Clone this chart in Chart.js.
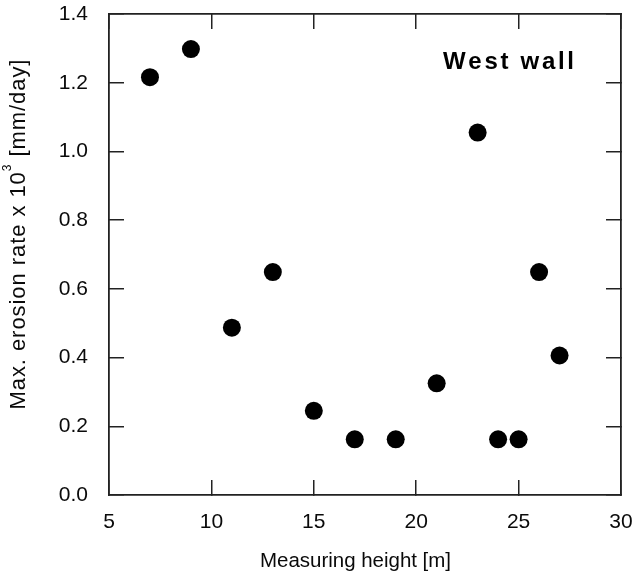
<!DOCTYPE html>
<html>
<head>
<meta charset="utf-8">
<script src="https://cdn.jsdelivr.net/npm/chart.js@4/dist/chart.umd.min.js"></script>
<style>
  html, body { margin: 0; padding: 0; background: #fff; }
  #wrap { width: 636px; height: 574px; }
</style>
</head>
<body>
<div id="wrap"><canvas id="c" width="636" height="574"></canvas></div>
<script>
// ---- data ----
const heights = [7, 9, 11, 13, 15, 17, 19, 21, 23, 24, 25, 26, 27];
const rates = [1.216, 1.298, 0.487, 0.649, 0.245, 0.162, 0.162, 0.325, 1.055, 0.162, 0.162, 0.649, 0.406];
const xTicks = [5, 10, 15, 20, 25, 30];
const yTicks = [0.0, 0.2, 0.4, 0.6, 0.8, 1.0, 1.2, 1.4];
const xTitle = 'Measuring height [m]';
const yTitleMain = 'Max. erosion rate x 10';
const yTitleSup = '3';
const yTitleEnd = ' [mm/day]';
const panelLabel = 'West wall';

const FONT = '"Liberation Sans", Arial, Helvetica, sans-serif';
const INK = '#0a0a0a';
const LINE = '#222';

function drawSpaced(ctx, text, x, y, spacing) {
  let cx = x;
  for (const ch of text) {
    ctx.fillText(ch, cx, y);
    cx += ctx.measureText(ch).width + spacing;
  }
  return cx;
}
function naturalWidth(ctx, text) {
  let w = 0;
  for (const ch of text) w += ctx.measureText(ch).width;
  return w;
}

const titlesPlugin = {
  id: 'titles',
  afterDraw(chart) {
    const ctx = chart.ctx;
    const a = chart.chartArea;
    ctx.save();
    ctx.fillStyle = INK;
    ctx.textBaseline = 'alphabetic';
    ctx.textAlign = 'left';

    // x axis title
    ctx.font = '20.5px ' + FONT;
    {
      const target = 191;
      const nat = naturalWidth(ctx, xTitle);
      const sp = (target - nat) / (xTitle.length - 1);
      const cx = a.left + (a.right - a.left) * 0.4815;
      drawSpaced(ctx, xTitle, cx - target / 2, 567, sp);
    }

    // y axis title (rotated) with superscript
    {
      const target = 350;
      ctx.font = '22px ' + FONT;
      const n1 = naturalWidth(ctx, yTitleMain);
      const n3 = naturalWidth(ctx, yTitleEnd);
      ctx.font = '12px ' + FONT;
      const n2 = naturalWidth(ctx, yTitleSup);
      const count = yTitleMain.length + yTitleSup.length + yTitleEnd.length;
      const sp = (target - n1 - n2 - n3) / (count - 1);
      const centerY = a.top + (a.bottom - a.top) * 0.4585;
      ctx.translate(25, centerY + target / 2);
      ctx.rotate(-Math.PI / 2);
      ctx.font = '22px ' + FONT;
      let x = drawSpaced(ctx, yTitleMain, 0, 0, sp);
      ctx.font = '12px ' + FONT;
      x = drawSpaced(ctx, yTitleSup, x, -14, sp);
      ctx.font = '22px ' + FONT;
      drawSpaced(ctx, yTitleEnd, x, 0, sp);
    }
    ctx.restore();

    // panel label
    ctx.save();
    ctx.fillStyle = '#000';
    ctx.font = 'bold 24px ' + FONT;
    ctx.textBaseline = 'alphabetic';
    ctx.textAlign = 'left';
    {
      const target = 131;
      const nat = naturalWidth(ctx, panelLabel);
      const sp = (target - nat) / (panelLabel.length - 1);
      drawSpaced(ctx, panelLabel, 443, 68.5, sp);
    }
    ctx.restore();
  }
};

const gridOpts = {
  drawOnChartArea: false,
  drawTicks: true,
  tickLength: -15,
  color: LINE,
  lineWidth: 1.5
};
const borderOpts = { display: true, color: LINE, width: 1.8 };

function noPad(s) {
  s.paddingTop = 0; s.paddingBottom = 0; s.paddingLeft = 0; s.paddingRight = 0;
}

new Chart(document.getElementById('c'), {
  type: 'scatter',
  data: {
    datasets: [{
      data: heights.map((h, i) => ({ x: h, y: rates[i] })),
      backgroundColor: '#000',
      borderColor: '#000',
      borderWidth: 0,
      pointRadius: 9,
      pointHoverRadius: 9
    }]
  },
  options: {
    responsive: false,
    devicePixelRatio: 1,
    animation: false,
    layout: { padding: { left: 0, top: 14, right: 15, bottom: 0 } },
    plugins: { legend: { display: false }, tooltip: { enabled: false } },
    scales: {
      x: {
        type: 'linear', position: 'bottom',
        min: xTicks[0], max: xTicks[xTicks.length - 1],
        afterBuildTicks: s => { s.ticks = xTicks.map(v => ({ value: v })); },
        ticks: { font: { family: FONT, size: 21 }, color: INK, padding: 30, maxRotation: 0,
                 callback: v => String(v) },
        grid: gridOpts, border: borderOpts,
        afterFit: s => { s.height = 79; noPad(s); }
      },
      y: {
        type: 'linear', position: 'left',
        min: yTicks[0], max: yTicks[yTicks.length - 1],
        afterBuildTicks: s => { s.ticks = yTicks.map(v => ({ value: v })); },
        ticks: { font: { family: FONT, size: 21 }, color: INK, padding: 36,
                 callback: v => Number(v).toFixed(1) },
        grid: gridOpts, border: borderOpts,
        afterFit: s => { s.width = 109; noPad(s); }
      },
      x2: {
        type: 'linear', position: 'top',
        min: xTicks[0], max: xTicks[xTicks.length - 1],
        afterBuildTicks: s => { s.ticks = xTicks.map(v => ({ value: v })); },
        ticks: { display: false },
        grid: gridOpts, border: borderOpts,
        afterFit: s => { s.height = 0; noPad(s); }
      },
      y2: {
        type: 'linear', position: 'right',
        min: yTicks[0], max: yTicks[yTicks.length - 1],
        afterBuildTicks: s => { s.ticks = yTicks.map(v => ({ value: v })); },
        ticks: { display: false },
        grid: gridOpts, border: borderOpts,
        afterFit: s => { s.width = 0; noPad(s); }
      }
    }
  },
  plugins: [titlesPlugin]
});
</script>
</body>
</html>
